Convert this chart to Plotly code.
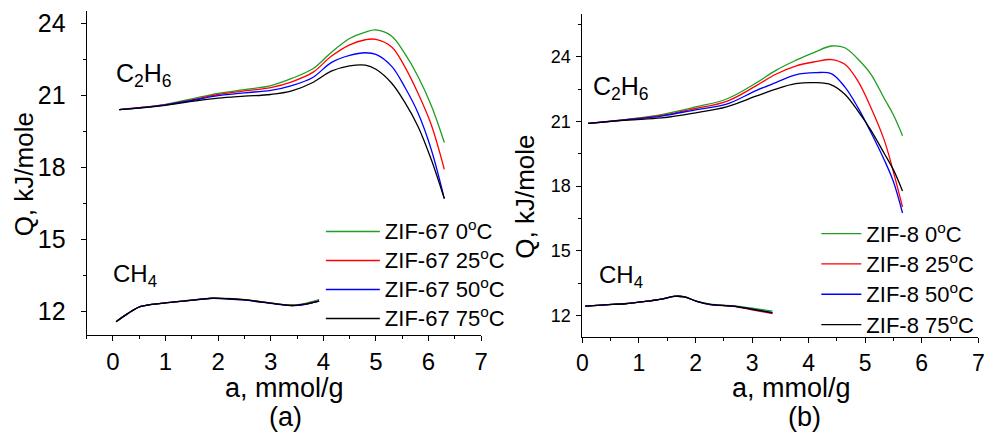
import plotly.graph_objects as go

# ---------------- data ----------------
temps = ["0", "25", "50", "75"]
colors = ["#1e9e1e", "#ff0000", "#0000ff", "#000000"]

# (a) ZIF-67, C2H6
a_c2h6_x = [0.12, 0.5, 1.0, 1.5, 2.0, 2.5, 3.0, 3.4, 3.8, 4.15, 4.5, 4.8, 5.0, 5.3, 5.55, 5.8, 6.05, 6.3]
a_c2h6_0 = [20.42, 20.50, 20.64, 20.87, 21.10, 21.25, 21.42, 21.72, 22.12, 22.80, 23.38, 23.65, 23.74, 23.48, 22.75, 21.80, 20.60, 19.05]
a_c2h6_25 = [20.42, 20.50, 20.63, 20.83, 21.05, 21.20, 21.34, 21.58, 21.97, 22.64, 23.12, 23.33, 23.35, 23.03, 22.20, 21.10, 19.80, 17.93]
a_c2h6_50 = [20.42, 20.49, 20.62, 20.80, 21.00, 21.12, 21.22, 21.42, 21.76, 22.38, 22.68, 22.79, 22.72, 22.22, 21.35, 20.28, 18.77, 16.71]
a_c2h6_75 = [20.42, 20.48, 20.60, 20.76, 20.90, 20.98, 21.05, 21.20, 21.55, 22.02, 22.24, 22.27, 22.10, 21.52, 20.72, 19.72, 18.35, 16.71]

# (a) ZIF-67, CH4
a_ch4_x = [0.06, 0.28, 0.53, 0.97, 1.47, 1.85, 2.2, 2.47, 2.85, 3.1, 3.41, 3.66, 3.92]
a_ch4_0 = [11.58, 11.92, 12.22, 12.36, 12.48, 12.57, 12.55, 12.51, 12.41, 12.34, 12.28, 12.35, 12.50]
a_ch4_25 = [11.58, 11.92, 12.22, 12.36, 12.47, 12.56, 12.54, 12.50, 12.40, 12.33, 12.26, 12.32, 12.45]
a_ch4_50 = [11.58, 11.92, 12.22, 12.36, 12.47, 12.55, 12.53, 12.49, 12.39, 12.32, 12.25, 12.31, 12.44]
a_ch4_75 = [11.58, 11.92, 12.22, 12.36, 12.47, 12.56, 12.54, 12.50, 12.40, 12.33, 12.26, 12.32, 12.44]

# (b) ZIF-8, C2H6
b_c2h6_x = [0.1, 0.8, 1.4, 2.0, 2.55, 3.07, 3.42, 3.77, 4.12, 4.4, 4.64, 4.87, 5.1, 5.34, 5.5, 5.66]
b_c2h6_0 = [20.91, 21.10, 21.32, 21.67, 22.04, 22.78, 23.37, 23.83, 24.23, 24.50, 24.42, 23.90, 23.20, 22.05, 21.30, 20.34]
b_c2h6_25 = [20.91, 21.09, 21.28, 21.60, 21.93, 22.65, 23.19, 23.57, 23.77, 23.87, 23.65, 22.88, 21.65, 20.11, 18.65, 17.03]
b_c2h6_50 = [20.91, 21.08, 21.25, 21.54, 21.80, 22.43, 22.80, 23.16, 23.26, 23.22, 22.60, 21.65, 20.50, 19.20, 18.20, 16.75]
b_c2h6_75 = [20.91, 21.06, 21.16, 21.40, 21.68, 22.17, 22.50, 22.75, 22.80, 22.70, 22.26, 21.49, 20.60, 19.50, 18.75, 17.77]

# (b) ZIF-8, CH4
b_ch4_x = [0.05, 0.4, 0.75, 1.15, 1.4, 1.62, 1.8, 2.02, 2.26, 2.66, 3.0, 3.36]
b_ch4_0 = [12.43, 12.49, 12.54, 12.66, 12.75, 12.89, 12.87, 12.66, 12.52, 12.45, 12.33, 12.20]
b_ch4_25 = [12.43, 12.49, 12.54, 12.66, 12.75, 12.88, 12.86, 12.65, 12.50, 12.42, 12.26, 12.08]
b_ch4_50 = [12.43, 12.49, 12.54, 12.66, 12.75, 12.88, 12.86, 12.65, 12.50, 12.43, 12.28, 12.12]
b_ch4_75 = [12.43, 12.49, 12.54, 12.66, 12.75, 12.88, 12.86, 12.65, 12.51, 12.43, 12.29, 12.13]

x_ticks = [0, 1, 2, 3, 4, 5, 6, 7]
y_ticks = [12, 15, 18, 21, 24]

FONT = "Liberation Sans, Arial, sans-serif"
fig = go.Figure()

a_c2h6 = [a_c2h6_0, a_c2h6_25, a_c2h6_50, a_c2h6_75]
a_ch4 = [a_ch4_0, a_ch4_25, a_ch4_50, a_ch4_75]
b_c2h6 = [b_c2h6_0, b_c2h6_25, b_c2h6_50, b_c2h6_75]
b_ch4 = [b_ch4_0, b_ch4_25, b_ch4_50, b_ch4_75]

LW = 1.3
SM = 1.0
for i, t in enumerate(temps):
    fig.add_trace(go.Scatter(x=a_c2h6_x, y=a_c2h6[i], mode="lines",
                             line=dict(color=colors[i], width=LW, shape="spline", smoothing=SM),
                             name=f'<span style="font-size:22px">ZIF-67 {t}<sup>o</sup>C</span>',
                             legend="legend", xaxis="x", yaxis="y"))
for i, t in enumerate(temps):
    fig.add_trace(go.Scatter(x=a_ch4_x, y=a_ch4[i], mode="lines",
                             line=dict(color=colors[i], width=LW, shape="spline", smoothing=SM),
                             showlegend=False, xaxis="x", yaxis="y"))
for i, t in enumerate(temps):
    fig.add_trace(go.Scatter(x=b_c2h6_x, y=b_c2h6[i], mode="lines",
                             line=dict(color=colors[i], width=LW, shape="spline", smoothing=SM),
                             name=f'<span style="font-size:22px">ZIF-8 {t}<sup>o</sup>C</span>',
                             legend="legend2", xaxis="x2", yaxis="y2"))
for i, t in enumerate(temps):
    fig.add_trace(go.Scatter(x=b_ch4_x, y=b_ch4[i], mode="lines",
                             line=dict(color=colors[i], width=LW, shape="spline", smoothing=SM),
                             showlegend=False, xaxis="x2", yaxis="y2"))

axis_common = dict(showline=True, linecolor="black", linewidth=1, showgrid=False,
                   zeroline=False, ticks="outside", ticklen=5, tickwidth=1, tickcolor="black",
                   mirror=False)
minor_common = dict(ticks="outside", ticklen=3, tickcolor="black", tick0=0)

fig.update_layout(
    width=1000, height=432,
    margin=dict(l=0, r=0, t=0, b=0),
    paper_bgcolor="white", plot_bgcolor="white",
    font=dict(family=FONT, color="black"),
    xaxis=dict(axis_common, domain=[0.0817, 0.4814], range=[-0.5, 7], anchor="y",
               tickvals=x_ticks, tickfont=dict(size=24),
               minor=dict(minor_common, dtick=0.5)),
    yaxis=dict(axis_common, domain=[0.2245, 0.9769], range=[11.02, 24.53], anchor="x",
               tickvals=y_ticks, tickfont=dict(size=25), ticklabelstandoff=10,
               minor=dict(minor_common, dtick=1.5)),
    xaxis2=dict(axis_common, domain=[0.584, 0.9851], range=[0, 7], anchor="y2",
                tickvals=x_ticks, tickfont=dict(size=23),
                minor=dict(minor_common, dtick=0.5)),
    yaxis2=dict(axis_common, domain=[0.2206, 0.9706], range=[11.0, 26.0], anchor="x2",
                tickvals=y_ticks, tickfont=dict(size=18), ticklabelstandoff=2,
                minor=dict(minor_common, dtick=1.5)),
    legend=dict(x=0.319, y=(432 - 211.5) / 432, xanchor="left", yanchor="top",
                bgcolor="rgba(0,0,0,0)", font=dict(size=20, family=FONT), itemwidth=54,
                tracegroupgap=0),
    legend2=dict(x=0.821, y=(432 - 213.0) / 432, xanchor="left", yanchor="top",
                 bgcolor="rgba(0,0,0,0)", font=dict(size=21, family=FONT), itemwidth=40,
                 tracegroupgap=0),
)

def ann(text, x, y, size, xanchor="center", yanchor="middle", **kw):
    fig.add_annotation(text=text, x=x / 1000, y=(432 - y) / 432, xref="paper", yref="paper",
                       xanchor=xanchor, yanchor=yanchor, showarrow=False,
                       font=dict(size=size, family=FONT, color="black"), **kw)

ann("C<sub>2</sub>H<sub>6</sub>", 109, 74, 25, xanchor="left")
ann("CH<sub>4</sub>", 106, 275, 24, xanchor="left")
ann("C<sub>2</sub>H<sub>6</sub>", 593, 87, 25, xanchor="left")
ann("CH<sub>4</sub>", 599, 276, 24, xanchor="left")
ann("a, mmol/g", 282, 388, 27)
ann("(a)", 283, 417, 27)
ann("a, mmol/g", 796, 388, 27)
ann("(b)", 809, 417, 27)
ann("Q, kJ/mole", 18, 174, 26, textangle=-90)
ann("Q, kJ/mole", 525, 196, 26, textangle=-90)

fig.write_html("out.html", config={"displayModeBar": False},
               post_script="document.body.style.margin='0px';")
